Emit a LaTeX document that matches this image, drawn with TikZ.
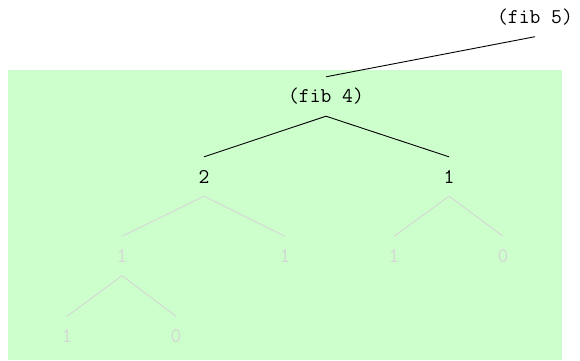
\documentclass[tikz,border=0pt]{standalone}
\usepackage{tikz}
\definecolor{callgreen}{HTML}{CCFFCC}
\definecolor{fadegray}{HTML}{D6D6D6}

\begin{document}
\begin{tikzpicture}[
    x=1pt, y=-1pt,
    call/.style={inner sep=0pt, minimum height=39pt, font=\ttfamily\fontsize{21}{23}\selectfont},
    faded/.style={call, text=fadegray},
    link/.style={line width=0.9pt, black},
    fadelink/.style={line width=0.9pt, fadegray}
]
\useasboundingbox (0,0) rectangle (580,360);
\fill[callgreen] (8,70) rectangle (562,360);
\node[call] (fibfive) at (535,17) {(fib 5)};
\node[call] (fibfour) at (326,96.5) {(fib 4)};
\node[call] (two) at (204,176.5) {2};
\node[call] (one) at (449,176.5) {1};
\node[faded] (twoL) at (122,256) {1};
\node[faded] (twoR) at (285,256) {1};
\node[faded] (oneL) at (394,256) {1};
\node[faded] (oneR) at (503,256) {0};
\node[faded] (leafL) at (67,336) {1};
\node[faded] (leafR) at (176,336) {0};
\draw[link] (fibfive.south) -- (fibfour.north);
\draw[link] (fibfour.south) -- (two.north);
\draw[link] (fibfour.south) -- (one.north);
\draw[fadelink] (two.south) -- (twoL.north);
\draw[fadelink] (two.south) -- (twoR.north);
\draw[fadelink] (one.south) -- (oneL.north);
\draw[fadelink] (one.south) -- (oneR.north);
\draw[fadelink] (twoL.south) -- (leafL.north);
\draw[fadelink] (twoL.south) -- (leafR.north);
\end{tikzpicture}
\end{document}
